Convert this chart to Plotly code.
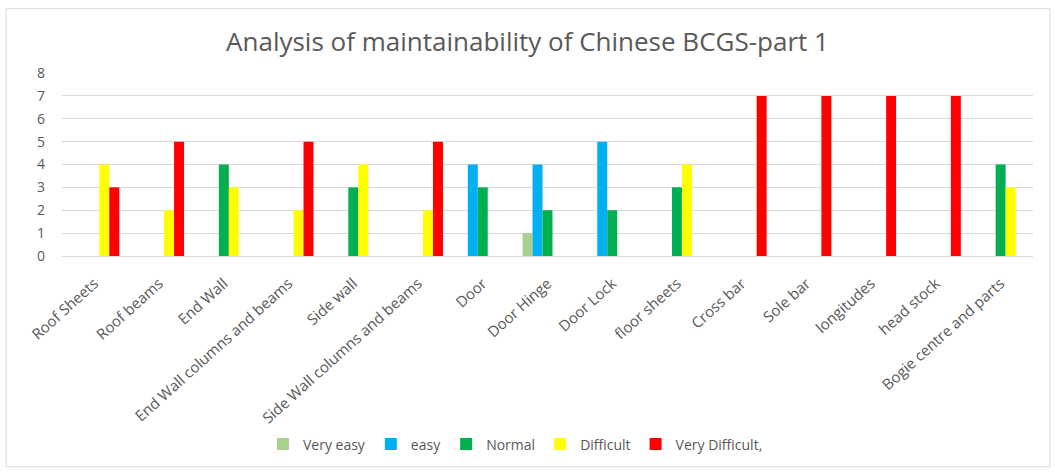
import plotly.graph_objects as go

categories = ["Roof Sheets", "Roof beams", "End Wall", "End Wall columns and beams",
              "Side wall", "Side Wall columns and beams", "Door", "Door Hinge",
              "Door Lock", "floor sheets", "Cross bar", "Sole bar", "longitudes",
              "head stock", "Bogie centre and parts"]
very_easy =      [0, 0, 0, 0, 0, 0, 0, 1, 0, 0, 0, 0, 0, 0, 0]
easy =           [0, 0, 0, 0, 0, 0, 4, 4, 5, 0, 0, 0, 0, 0, 0]
normal =         [0, 0, 4, 0, 3, 0, 3, 2, 2, 3, 0, 0, 0, 0, 4]
difficult =      [4, 2, 3, 2, 4, 2, 0, 0, 0, 4, 0, 0, 0, 0, 3]
very_difficult = [3, 5, 0, 5, 0, 5, 0, 0, 0, 0, 7, 7, 7, 7, 0]

series = [
    ("Very easy", very_easy, "#A9D18E"),
    ("easy", easy, "#00B0F0"),
    ("Normal", normal, "#00B050"),
    ("Difficult", difficult, "#FFFF00"),
    ("Very Difficult,", very_difficult, "#FF0000"),
]

fig = go.Figure()
for name, vals, color in series:
    fig.add_trace(go.Bar(x=categories, y=vals, name=name, marker_color=color,
                         marker_line_width=0))

fig.update_layout(
    width=1055, height=473,
    margin=dict(l=62, r=22, t=73, b=215),
    paper_bgcolor="white", plot_bgcolor="white",
    barmode="group", bargap=0.23, bargroupgap=0,
    font=dict(family="Open Sans, Liberation Sans, sans-serif", color="#595959", size=12),
    title=dict(text="Analysis of maintainability of Chinese BCGS-part 1",
               x=0.5, xanchor="center", y=0.911, yanchor="middle",
               font=dict(size=26, color="#595959")),
    legend=dict(orientation="h", x=0.467, xanchor="center", y=-1.03, yanchor="middle",
                font=dict(size=14, color="#595959"), traceorder="normal",
                itemwidth=30),
    showlegend=True,
)
fig.update_xaxes(tickangle=-42, showgrid=False, showline=True, linecolor="#D9D9D9",
                 tickfont=dict(size=15, color="#595959"),
                 ticks="outside", ticklen=12, tickcolor="rgba(0,0,0,0)")
fig.update_yaxes(range=[0, 8], dtick=1, showgrid=True, gridcolor="#D9D9D9",
                 zeroline=False, tickfont=dict(size=14, color="#595959"), ticks="",
                 ticklabelstandoff=16)

fig.add_shape(type="rect", xref="paper", yref="paper",
              x0=(6 - 62) / 971, x1=(1050 - 62) / 971,
              y0=(258 - 471) / 185, y1=1 + (73 - 8) / 185,
              line=dict(color="#D9D9D9", width=1), fillcolor="rgba(0,0,0,0)", layer="below")

fig.write_html("out.html")
